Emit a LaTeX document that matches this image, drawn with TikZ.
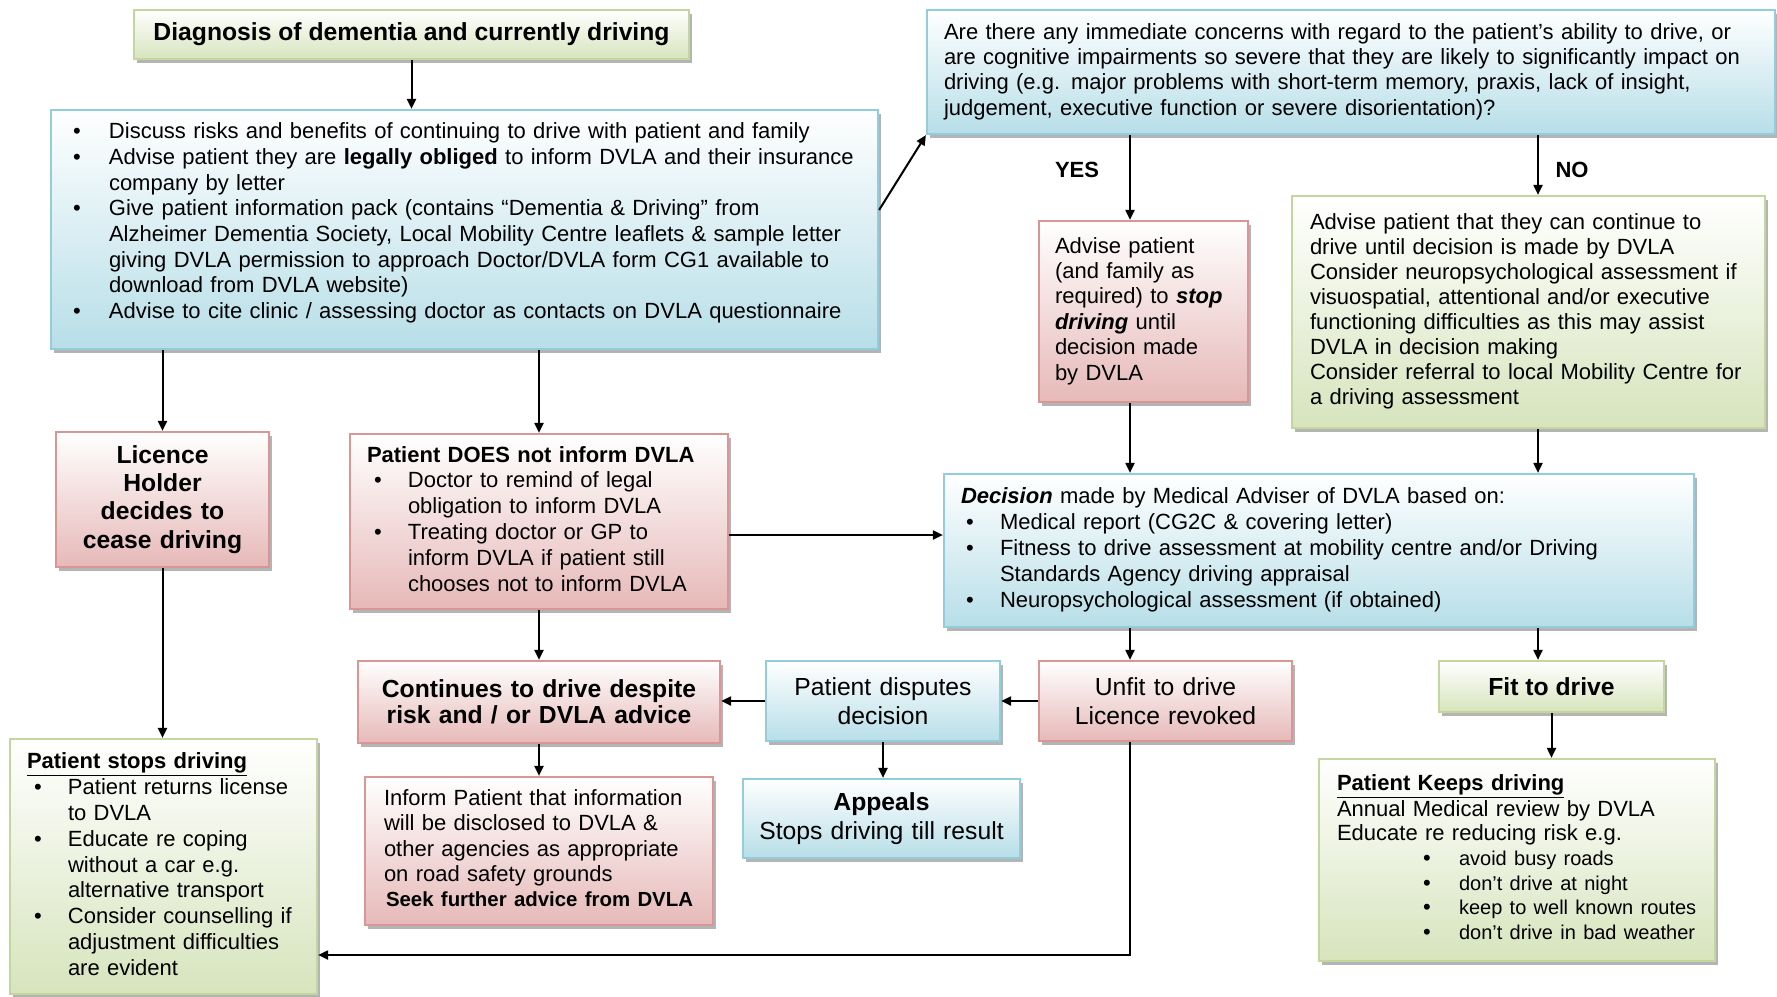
\documentclass[tikz,border=0pt]{standalone}
\usepackage{fontspec}
\setmainfont{Liberation Sans}
\usetikzlibrary{shadows,arrows.meta}
\setlength{\parindent}{0pt}
\definecolor{bluefill}{HTML}{B7DEE8}
\definecolor{blueline}{HTML}{93CDDD}
\definecolor{redfill}{HTML}{E6B9B8}
\definecolor{redline}{HTML}{D99694}
\definecolor{greenfill}{HTML}{D7E4BD}
\definecolor{greenline}{HTML}{C3D69B}
\newcommand\fsbody[1]{\fontsize{11}{#1}\selectfont}
\newcommand\fstitle[1]{\fontsize{12.35}{#1}\selectfont}
\newcommand\bu{\textbullet}
\newcommand\narrow[1]{{\fontsize{10}{12.35}\selectfont #1}}
\tikzset{
 boxbase/.style={draw, line width=1.1pt, inner ysep=0pt,
   drop shadow={shadow xshift=1.5pt, shadow yshift=-2pt, fill=black!45, opacity=0.65}},
 bluebox/.style={boxbase, draw=blueline, top color=white, bottom color=bluefill},
 redbox/.style={boxbase, draw=redline, top color=white, bottom color=redfill},
 greenbox/.style={boxbase, draw=greenline, top color=white, bottom color=greenfill},
 arr/.style={-{Triangle[length=5pt,width=4.5pt]}, line width=1pt},
 lbl/.style={font=\fsbody{13}\bfseries, inner sep=0pt}
}
\begin{document}
\begin{tikzpicture}[x=0.5pt,y=-0.5pt]
\useasboundingbox[fill=white] (0,0) rectangle (1777,996);

% helper coordinates
\coordinate (xyes) at (1130,0);
\coordinate (xno) at (1538,0);
\coordinate (yh) at (0,535);
\coordinate (yb) at (0,955);

\node[greenbox, minimum width=277.5pt, minimum height=24.5pt, inner xsep=0pt, font=\fstitle{14}\bfseries] (diag) at (411.5,34.5) {Diagnosis of dementia and currently driving};

\node[bluebox, minimum width=413.5pt, minimum height=119.5pt, text width=391.5pt, inner xsep=11pt, align=left, font=\fsbody{12.85}] (info) at (464.5,229.5) {%
\begin{tabular}{@{}p{18pt}@{}l@{}}
\bu & Discuss risks and benefits of continuing to drive with patient and family\\
\bu & Advise patient they are \textbf{legally obliged} to inform DVLA and their insurance\\
 & company by letter\\
\bu & Give patient information pack (contains “Dementia \& Driving” from\\
 & Alzheimer Dementia Society, Local Mobility Centre leaflets \& sample letter\\
 & giving DVLA permission to approach Doctor/DVLA form CG1 available to\\
 & download from DVLA website)\\
\bu & Advise to cite clinic / assessing doctor as contacts on DVLA questionnaire\\[6pt]
\end{tabular}};

\node[bluebox, minimum width=424pt, minimum height=62pt, text width=407pt, inner xsep=8.5pt, align=left, font=\fsbody{12.65}] (quest) at (1351,72) {%
\begin{tabular}{@{}l@{}}
Are there any immediate concerns with regard to the patient’s ability to drive, or\\
are cognitive impairments so severe that they are likely to significantly impact on\\
driving (e.g. major problems with short-term memory, praxis, lack of insight,\\
judgement, executive function or severe disorientation)?
\end{tabular}};

\node[lbl] (yes) at (1077,170) {YES};
\node[lbl] (no) at (1572,170) {NO};

\node[redbox, minimum width=104.5pt, minimum height=90.5pt, text width=88.5pt, inner xsep=8pt, align=left, font=\fsbody{12.7}] (stop) at (1143.5,311.5) {%
\begin{tabular}{@{}l@{}}
Advise patient\\(and family as\\required) to \textbf{\textit{stop}}\\\textbf{\textit{driving}} until\\decision made\\by DVLA
\end{tabular}};

\node[greenbox, minimum width=236.5pt, minimum height=116pt, text width=218.5pt, inner xsep=9pt, align=left, font=\fsbody{12.55}] (cont) at (1528.5,312) {%
\begin{tabular}{@{}l@{}}
Advise patient that they can continue to\\
drive until decision is made by DVLA\\
Consider neuropsychological assessment if\\
visuospatial, attentional and/or executive\\
functioning difficulties as this may assist\\
DVLA in decision making\\
Consider referral to local Mobility Centre for\\
a driving assessment
\end{tabular}};

\node[redbox, minimum width=106.5pt, minimum height=67.5pt, text width=96.5pt, inner xsep=5pt, align=center, font=\fstitle{14.15}\bfseries] (lic) at (162.5,499.5) {Licence\\Holder\\decides to\\cease driving};

\node[redbox, minimum width=189pt, minimum height=87.5pt, text width=172pt, inner xsep=8.5pt, align=left, font=\fsbody{12.9}] (noinf) at (539,521.5) {%
\begin{tabular}{@{}p{20.5pt}@{}l@{}}
\multicolumn{2}{@{}l@{}}{\textbf{Patient DOES not inform DVLA}}\\
\hspace*{3.5pt}\bu & Doctor to remind of legal\\
 & obligation to inform DVLA\\
\hspace*{3.5pt}\bu & Treating doctor or GP to\\
 & inform DVLA if patient still\\
 & chooses not to inform DVLA
\end{tabular}};

\node[bluebox, minimum width=375pt, minimum height=76.5pt, text width=358pt, inner xsep=8.5pt, align=left, font=\fsbody{13.05}] (dec) at (1319,550.5) {%
\begin{tabular}{@{}p{19.5pt}@{}l@{}}
\multicolumn{2}{@{}l@{}}{\textbf{\textit{Decision}} made by Medical Adviser of DVLA based on:}\\
\hspace*{2.5pt}\bu & Medical report (CG2C \& covering letter)\\
\hspace*{2.5pt}\bu & Fitness to drive assessment at mobility centre and/or Driving\\
 & Standards Agency driving appraisal\\
\hspace*{2.5pt}\bu & Neuropsychological assessment (if obtained)
\end{tabular}};

\node[redbox, minimum width=181pt, minimum height=41pt, text width=171pt, inner xsep=5pt, align=center, font=\fstitle{13.25}\bfseries] (contd) at (539,702) {Continues to drive despite\\risk and / or DVLA advice};

\node[bluebox, minimum width=117pt, minimum height=40pt, text width=109pt, inner xsep=4pt, align=center, font=\fstitle{14.75}] (disp) at (883,701) {Patient disputes\\decision};

\node[redbox, minimum width=126.5pt, minimum height=40pt, text width=118.5pt, inner xsep=4pt, align=center, font=\fstitle{14.75}] (unfit) at (1165.5,701) {Unfit to drive\\Licence revoked};

\node[greenbox, minimum width=112.5pt, minimum height=25.5pt, inner xsep=0pt, font=\fstitle{14}\bfseries] (fit) at (1551.5,686.5) {Fit to drive};

\node[greenbox, minimum width=153.5pt, minimum height=127.5pt, text width=136.5pt, inner xsep=8.5pt, align=left, font=\fsbody{12.9}] (pstop) at (163.5,866.5) {%
\begin{tabular}{@{}p{20.5pt}@{}l@{}}
\multicolumn{2}{@{}l@{}}{\textbf{\underline{Patient stops driving}}}\\
\hspace*{3.5pt}\bu & Patient returns license\\
 & to DVLA\\
\hspace*{3.5pt}\bu & Educate re coping\\
 & without a car e.g.\\
 & alternative transport\\
\hspace*{3.5pt}\bu & Consider counselling if\\
 & adjustment difficulties\\
 & are evident
\end{tabular}};

\node[redbox, minimum width=174pt, minimum height=74pt, text width=155pt, inner xsep=9.5pt, align=left, font=\fsbody{12.6}] (infp) at (539,851) {%
\begin{tabular}{@{}l@{}}
Inform Patient that information\\
will be disclosed to DVLA \&\\
other agencies as appropriate\\
on road safety grounds\\
\hspace*{1pt}{\fontsize{10.2}{12.6}\selectfont\bfseries Seek further advice from DVLA}
\end{tabular}};

\node[bluebox, minimum width=138.5pt, minimum height=39.5pt, text width=130.5pt, inner xsep=4pt, align=center, font=\fstitle{14.15}] (appeal) at (881.5,818.5) {\textbf{Appeals}\\Stops driving till result};

\node[greenbox, minimum width=198pt, minimum height=101pt, text width=180pt, inner xsep=9pt, align=left, font=\fsbody{12.35}] (keep) at (1517,860) {%
\begin{tabular}{@{}p{61pt}@{}l@{}}
\multicolumn{2}{@{}l@{}}{\textbf{\underline{Patient Keeps driving}}}\\
\multicolumn{2}{@{}l@{}}{Annual Medical review by DVLA}\\
\multicolumn{2}{@{}l@{}}{Educate re reducing risk e.g.}\\
\hspace*{43pt}\bu & \narrow{avoid busy roads}\\
\hspace*{43pt}\bu & \narrow{don’t drive at night}\\
\hspace*{43pt}\bu & \narrow{keep to well known routes}\\
\hspace*{43pt}\bu & \narrow{don’t drive in bad weather}
\end{tabular}};

% connectors
\draw[arr] (diag.south) -- (diag.south |- info.north);
\draw[arr] ([yshift=9.75pt]info.east) -- (quest.south west);
\draw[arr] (xyes |- quest.south) -- (xyes |- stop.north);
\draw[arr] (xno |- quest.south) -- (xno |- cont.north);
\draw[arr] (lic.north |- info.south) -- (lic.north);
\draw[arr] (noinf.north |- info.south) -- (noinf.north);
\draw[arr] (xyes |- stop.south) -- (xyes |- dec.north);
\draw[arr] (xno |- cont.south) -- (xno |- dec.north);
\draw[arr] (noinf.east |- yh) -- (dec.west |- yh);
\draw[arr] (noinf.south) -- (contd.north);
\draw[arr] (lic.south) -- (lic.south |- pstop.north);
\draw[arr] (xyes |- dec.south) -- (xyes |- unfit.north);
\draw[arr] (xno |- dec.south) -- (xno |- fit.north);
\draw[arr] (unfit.west) -- (disp.east);
\draw[arr] (disp.west) -- (contd.east |- disp.west);
\draw[arr] (disp.south) -- (disp.south |- appeal.north);
\draw[arr] (contd.south) -- (infp.north);
\draw[arr] (fit.south) -- (fit.south |- keep.north);
\draw[arr] (xyes |- unfit.south) |- (pstop.east |- yb);
\end{tikzpicture}
\end{document}
